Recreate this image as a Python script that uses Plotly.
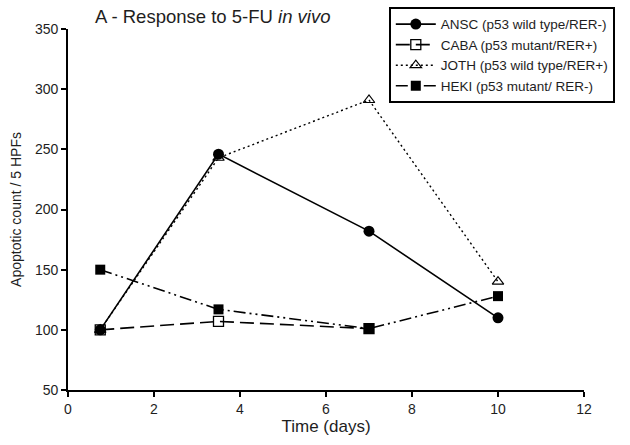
import plotly.graph_objects as go

# Time after 5-FU (days) and apoptotic counts per 5 high-power fields
ansc_days = [0.75, 3.5, 7, 10]
ansc_counts = [100, 246, 182, 110]

caba_days = [0.75, 3.5, 7]
caba_counts = [100, 107, 101]

joth_days = [0.75, 3.5, 7, 10]
joth_counts = [100, 243, 291, 140]

heki_days = [0.75, 3.5, 7, 10]
heki_counts = [150, 117, 101, 128]

names = [
    "ANSC (p53 wild type/RER-)",
    "CABA (p53 mutant/RER+)",
    "JOTH (p53 wild type/RER+)",
    "HEKI (p53 mutant/ RER-)",
]

x_ticks = [0, 2, 4, 6, 8, 10, 12]
y_ticks = [50, 100, 150, 200, 250, 300, 350]

FONT = "Liberation Sans, Arial, sans-serif"
INK = "#1e1e1e"

fig = go.Figure()

fig.add_trace(go.Scatter(
    x=ansc_days, y=ansc_counts, name=names[0], mode="lines+markers",
    line=dict(color="black", width=1.6, dash="solid"),
    marker=dict(symbol="circle", size=11, color="black"),
))
fig.add_trace(go.Scatter(
    x=caba_days, y=caba_counts, name=names[1], mode="lines+markers",
    line=dict(color="black", width=1.6, dash="14px,6px"),
    marker=dict(symbol="square-open", size=10, color="black", line=dict(width=1.3)),
))
fig.add_trace(go.Scatter(
    x=joth_days, y=joth_counts, name=names[2], mode="lines+markers",
    line=dict(color="black", width=1.4, dash="2px,3px"),
    marker=dict(symbol="triangle-up-open", size=10, color="black", line=dict(width=1.2)),
))
fig.add_trace(go.Scatter(
    x=heki_days, y=heki_counts, name=names[3], mode="lines+markers",
    line=dict(color="black", width=1.6, dash="12px,4px,2px,4px,2px,4px"),
    marker=dict(symbol="square", size=10, color="black"),
))

axis_common = dict(
    showline=True, linecolor="black", linewidth=1.6,
    ticks="outside", ticklen=5, tickwidth=1.5, tickcolor="black",
    showgrid=False, zeroline=False, automargin=False,
    tickfont=dict(family=FONT, size=14, color=INK),
)

fig.update_xaxes(
    range=[0, 12], tickvals=x_ticks,
    title=dict(text="Time (days)", font=dict(family=FONT, size=17, color=INK), standoff=4),
    **axis_common,
)
fig.update_yaxes(
    range=[50, 350], tickvals=y_ticks,
    title=dict(text="Apoptotic count / 5 HPFs", font=dict(family=FONT, size=14, color=INK), standoff=10),
    **axis_common,
)

fig.update_layout(
    width=630, height=445,
    margin=dict(l=68, r=46, t=29, b=55, autoexpand=False),
    paper_bgcolor="white", plot_bgcolor="white",
    font=dict(family=FONT, color=INK),
    title=dict(
        text="A - Response to 5-FU <i>in vivo</i>",
        font=dict(family=FONT, size=18.5, color=INK),
        x=95 / 630, xanchor="left", y=1 - 17 / 445, yanchor="middle",
    ),
    legend=dict(
        xref="container", yref="container",
        x=389 / 630, y=1 - 7 / 445, xanchor="left", yanchor="top",
        bordercolor="black", borderwidth=1.8, bgcolor="white",
        font=dict(family=FONT, size=13.5, color=INK),
        tracegroupgap=0, itemwidth=40,
    ),
    showlegend=True,
)

fig.write_html("out.html")
